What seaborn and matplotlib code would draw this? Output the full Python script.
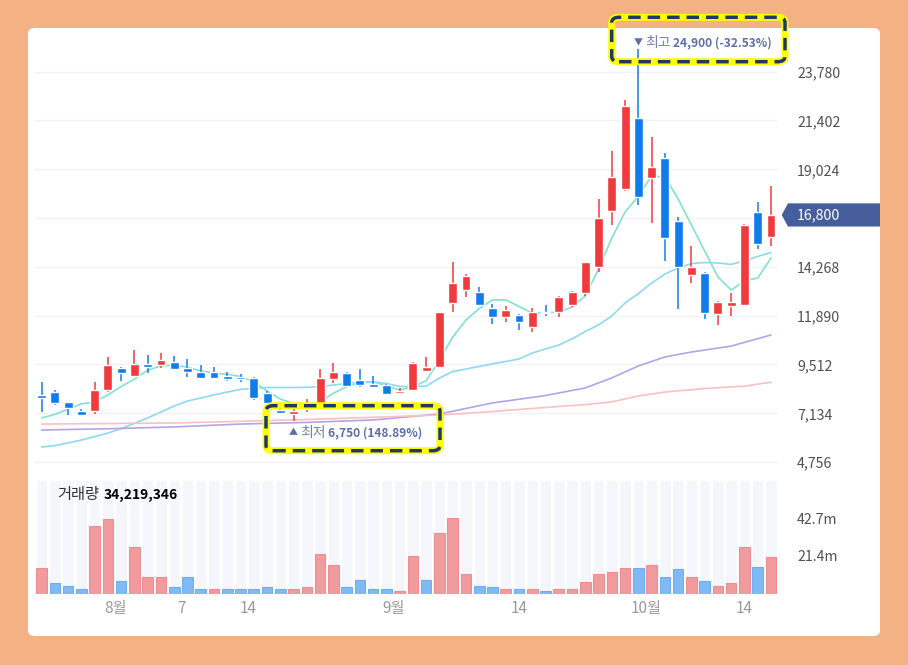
import numpy as np
import pandas as pd
import seaborn as sns
import matplotlib.pyplot as plt
from matplotlib.patches import FancyBboxPatch, Polygon

# daily candles (KRW)
opens = [8030, 8190, 7700, 7250, 7250, 8270, 9330, 8950, 9540, 9490,
         9650, 9330, 9160, 9160, 8950, 8920, 8840, 8110, 7300, 7100,
         7330, 7590, 8790, 9110, 8760, 8560, 8510, 8110, 8270, 9210,
         9380, 12490, 13140, 13060, 12250, 11810, 11920, 11330, 12070, 12090,
         12410, 12980, 14250, 16990, 18050, 21510, 18590, 19560, 16500, 13870,
         13960, 11960, 12360, 12410, 16930, 15710]
highs = [8670, 8270, 7700, 7340, 8670, 9880, 9410, 10220, 9980, 10090,
         9930, 9770, 9490, 9380, 9160, 9030, 8890, 8220, 7700, 7380,
         7820, 9280, 9600, 9160, 9280, 8950, 8560, 8350, 9650, 9890,
         12090, 14520, 13910, 13270, 12450, 12380, 11970, 12280, 12410, 12870,
         13090, 14490, 17580, 19930, 22400, 24900, 20600, 19800, 16710, 15290,
         14030, 12610, 13010, 16340, 17420, 18210]
lows = [7210, 7540, 7050, 7000, 7100, 8190, 8720, 8920, 9080, 9330,
        9240, 8890, 8790, 8790, 8720, 8670, 7780, 7620, 7100, 6750,
        7210, 7540, 8600, 8430, 8430, 8350, 8030, 8070, 8240, 9200,
        9330, 12090, 12790, 12360, 11490, 11600, 11190, 11110, 11880, 11840,
        12330, 12870, 14030, 16310, 17980, 17280, 16420, 14570, 12220, 13470,
        11720, 11440, 11880, 12360, 15130, 15290]
closes = [7880, 7650, 7380, 7050, 8270, 9490, 9080, 9540, 9410, 9730,
          9280, 9160, 8840, 8840, 8790, 8790, 7870, 7650, 7130, 7260,
          7380, 8840, 9160, 8460, 8510, 8430, 8070, 8240, 9600, 9380,
          12090, 13470, 13830, 12410, 11810, 12170, 11600, 12090, 12020, 12790,
          13060, 14490, 16640, 18660, 22110, 17660, 19150, 15660, 14250, 14280,
          12040, 12540, 12540, 16310, 15370, 16800]

# volume in millions of shares, and bar colour (1 = red, 0 = blue)
volumes_m = [14.2, 5.7, 4.3, 2.3, 38.3, 41.9, 7.2, 26.2, 9.3, 9.3,
             3.6, 9.3, 2.8, 2.8, 2.8, 2.3, 2.3, 3.6, 2.8, 2.8,
             3.6, 22.1, 16.4, 3.6, 7.9, 2.8, 2.3, 1.5, 21.3, 7.9,
             34.2, 42.5, 11.3, 4.3, 3.6, 2.3, 2.3, 2.8, 1.5, 2.8,
             2.3, 6.4, 11.3, 12.1, 14.2, 14.2, 16.4, 9.3, 13.6, 9.3,
             7.2, 4.3, 5.7, 26.2, 14.9, 20.6]
volume_up = [1, 0, 0, 0, 1, 1, 0, 1, 1, 1,
             0, 0, 0, 1, 0, 0, 0, 0, 0, 1,
             1, 1, 1, 0, 0, 0, 0, 1, 1, 0,
             1, 1, 1, 0, 0, 1, 0, 1, 0, 1,
             1, 1, 1, 1, 1, 0, 1, 0, 0, 1,
             0, 1, 1, 1, 0, 1]

# moving averages
ma5 = [6910, 7080, 7340, 7590, 7690, 8030, 8440, 8800, 9240, 9440,
       9490, 9370, 9200, 9100, 9030, 8930, 8680, 8220, 7830, 7610,
       7540, 7700, 8110, 8430, 8630, 8670, 8460, 8270, 8430, 8720,
       9730, 10850, 11680, 12240, 12660, 12660, 12340, 12020, 12020, 12070,
       12310, 12850, 14170, 15680, 16940, 17720, 18700, 18650, 17580, 16310,
       15040, 13780, 13140, 13580, 13730, 14700]
ma20 = [5490, 5560, 5690, 5830, 6000, 6170, 6390, 6640, 6910, 7200,
        7490, 7730, 7880, 8030, 8170, 8300, 8350, 8390, 8390, 8390,
        8400, 8440, 8510, 8590, 8640, 8670, 8590, 8440, 8440, 8460,
        8850, 9170, 9290, 9420, 9540, 9660, 9780, 10070, 10270, 10460,
        10760, 11120, 11440, 11880, 12510, 12970, 13480, 13920, 14210, 14430,
        14480, 14460, 14390, 14560, 14780, 14970]
ma60_day = [0, 5, 10, 15, 20, 25, 30, 34, 38, 41, 43, 45, 47, 49, 52, 55]
ma60 = [6320, 6380, 6470, 6610, 6690, 6810, 7100, 7640, 8000, 8370,
        8860, 9440, 9880, 10120, 10410, 10950]
ma120_day = [0, 10, 20, 30, 34, 38, 41, 43, 45, 47, 50, 53, 55]
ma120 = [6610, 6660, 6830, 7050, 7220, 7420, 7560, 7690, 7980, 8170,
         8340, 8460, 8650]

price_ticks = [4756, 7134, 9512, 11890, 14268, 16646, 19024, 21402, 23780]
volume_ticks_m = [21.4, 42.7]
date_ticks = [5.55, 10.55, 15.55, 26.55, 36.0, 45.6, 53.0]
date_labels = ['8월', '7', '14', '9월', '14', '10월', '14']
volume_label = '34,219,346'

RED, BLUE = '#F03A3C', '#107CEC'
VRED, VBLUE = '#F29B9E', '#80BAF5'
ANNO = '#5C6FA7'

sns.set_style('white')
plt.rcParams['font.family'] = ['Noto Sans CJK KR', 'DejaVu Sans']

W, H = 908, 665
fig = plt.figure(figsize=(W / 100, H / 100), dpi=100)
fig.patch.set_facecolor('#F4B183')
fig.patches.append(FancyBboxPatch((28 / W, 1 - 636 / H), 852 / W, 608 / H,
                                  boxstyle='round,pad=0,rounding_size=0.008',
                                  transform=fig.transFigure, fc='white', ec='none', zorder=-5))

ax = fig.add_axes([35 / W, 1 - 470 / H, 742.6 / W, 440 / H])
axv = fig.add_axes([35 / W, 1 - 593.5 / H, 742.6 / W, 113.5 / H])
for a in (ax, axv):
    a.set_facecolor('none')
    for s in a.spines.values():
        s.set_visible(False)
    a.set_xlim(-0.5, len(closes) - 0.5)

o = np.array(opens)
c = np.array(closes)
x = np.arange(len(c))
up = c > o
col = np.where(up, RED, BLUE)

# price pane
ax.vlines(x, lows, highs, colors=col, lw=1.1, zorder=3)
ax.bar(x, np.maximum(np.abs(c - o), 60), bottom=np.minimum(o, c), width=0.67,
       color=col, zorder=3)

lines = [(x, ma5, '#80E2CD'), (x, ma20, '#8DD9F0'),
         (ma60_day, ma60, '#B2A3EA'), (ma120_day, ma120, '#FBC0C0')]
for lx, ly, lc in lines:
    df = pd.DataFrame({'day': lx, 'ma': ly})
    sns.lineplot(data=df, x='day', y='ma', ax=ax, color=lc, lw=1.2, zorder=2)

ax.set_ylim(4371, 25812)
ax.set_yticks(price_ticks)
ax.set_yticklabels(['' if v == 16646 else f'{v:,}' for v in price_ticks])
ax.yaxis.tick_right()
ax.tick_params(axis='y', length=0, pad=14, labelsize=10.2, labelcolor='#505050')
ax.set_xticks([])
ax.set_xlabel('')
ax.set_ylabel('')
ax.yaxis.grid(True, color='#F1F2F7', lw=1)
ax.set_axisbelow(True)

# volume pane
vtop = 64.2e6
vol = np.array(volumes_m) * 1e6
vup = np.array(volume_up) == 1
axv.bar(x, vtop, width=0.86, color='#F5F6FB', zorder=1)
axv.bar(x, vol, width=0.8, color=np.where(vup, VRED, VBLUE),
        edgecolor=np.where(vup, '#EE8C8F', '#6EAEF2'), lw=0.8, zorder=2)
axv.set_ylim(0, vtop)
axv.set_yticks([v * 1e6 for v in volume_ticks_m])
axv.set_yticklabels([f'{v}m' for v in volume_ticks_m])
axv.yaxis.tick_right()
axv.tick_params(axis='y', length=0, pad=14, labelsize=10.2, labelcolor='#505050')
axv.set_xticks(date_ticks)
axv.set_xticklabels(date_labels)
axv.tick_params(axis='x', length=0, pad=5, labelsize=11, labelcolor='#9A9A9A')

fig.text(57 / W, 1 - 495 / H, '거래량', fontsize=11, color='#333333', va='center')
fig.text(104 / W, 1 - 495 / H, volume_label, fontsize=10, color='black',
         fontweight='bold', va='center')


def fx(px):
    return px / W


def fy(py):
    return 1 - py / H


# high / low labels
def label(cx, cy, mark, word, value):
    fig.text(fx(cx), fy(cy), mark, fontsize=6.5, color=ANNO, ha='center', va='center')
    fig.text(fx(cx + 7), fy(cy), word, fontsize=10, color='#7383B3', ha='left', va='center')
    fig.text(fx(cx + 34.5), fy(cy), value, fontsize=8.6, color=ANNO, ha='left',
             va='center', fontweight='bold')


hi_day = int(np.argmax(highs))
lo_day = int(np.argmin(lows))
hx = ax.transData.transform((hi_day, highs[hi_day]))
lx_ = ax.transData.transform((lo_day, lows[lo_day]))
hi_pct = (closes[-1] / highs[hi_day] - 1) * 100
lo_pct = (closes[-1] / lows[lo_day] - 1) * 100
label(hx[0], 43.3, '▼', '최고', f'{highs[hi_day]:,} ({hi_pct:.2f}%)')
label(lx_[0], 432.7, '▲', '최저', f'{lows[lo_day]:,} ({lo_pct:.2f}%)')


def dashed_box(x0, y0, x1, y1):
    for lw, colr, ls in [(5, '#FFFF00', '-'), (2.5, '#1F3864', (0, (3.6, 2.0)))]:
        fig.patches.append(FancyBboxPatch((fx(x0), fy(y1)), (x1 - x0) / W, (y1 - y0) / H,
                                          boxstyle='round,pad=0,rounding_size=0.008',
                                          transform=fig.transFigure, fc='none',
                                          ec=colr, lw=lw, ls=ls, zorder=10))


dashed_box(611.7, 17.3, 785, 61.7)
dashed_box(266, 405.7, 440, 450.7)

# last price marker
py = H - ax.transData.transform((0, closes[-1]))[1]
pts = [(781.7, py), (788, py - 11.6), (880, py - 11.6), (880, py + 11.6), (788, py + 11.6)]
fig.patches.append(Polygon([(fx(a), fy(b)) for a, b in pts], closed=True,
                           transform=fig.transFigure, fc='#465E9B', ec='none', zorder=5))
fig.text(fx(797), fy(py), f'{closes[-1]:,}', fontsize=10.2, color='white',
         va='center', zorder=6)

fig.savefig('out.png', dpi=100)
